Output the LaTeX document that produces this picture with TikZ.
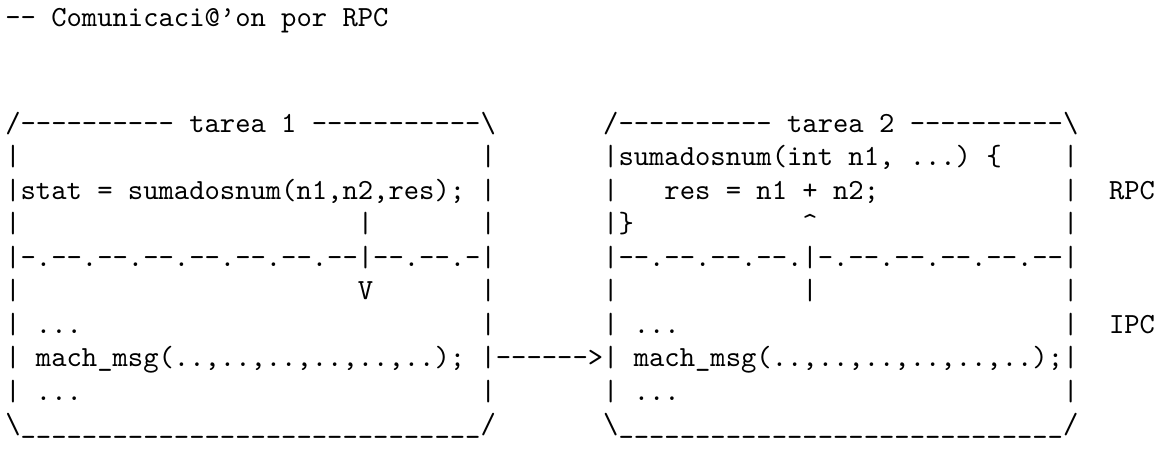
\documentclass[tikz,border=0pt]{standalone}
\usepackage{fontspec}
\setmonofont{lmmono10-regular.otf}
\newcommand\bs{\textbackslash}
\newcommand\gap[1]{\hspace*{#1\fontdimen2\font}}
\newcommand\rep[2]{\foreach\ri in {1,...,#1}{#2}}
\tikzset{
  row/.style={anchor=base west, inner sep=0pt, outer sep=0pt,
    font=\fontsize{14.6pt}{16pt}\selectfont\ttfamily\frenchspacing}
}
\begin{document}
\begin{tikzpicture}[x=0.5pt,y=-0.5pt]
\useasboundingbox (0,0) rectangle (1159,452);
\def\lx{5.3}
\node[row] (r0) at (\lx,26) {--~Comunicaci@’on~por~RPC};
\node[row] (r1) at (\lx,132) {/----------~tarea~1~-----------\bs\gap{7}/----------~tarea~2~----------\bs};
\node[row] (r2) at (\lx,165.5) {|\gap{30}|\gap{7}|sumadosnum(int~n1,~...)~\{\gap{4}|};
\node[row] (r3) at (\lx,199) {|stat~=~sumadosnum(n1,n2,res);~|\gap{7}|\gap{3}res~=~n1~+~n2;\gap{12}|\gap{2}RPC};
\node[row] (r4) at (\lx,232.5) {|\gap{22}|\gap{7}|\gap{7}|\}\gap{11}\textasciicircum\gap{16}|};
\node[row] (r5) at (\lx,266) {|-.--.--.--.--.--.--.--|--.--.-|\gap{7}|--.--.--.--.|-.--.--.--.--.--|};
\node[row] (r6) at (\lx,299.5) {|\gap{22}V\gap{7}|\gap{7}|\gap{12}|\gap{16}|};
\node[row] (r7) at (\lx,333) {|~...\gap{26}|\gap{7}|~...\gap{25}|\gap{2}IPC};
\node[row] (r8) at (\lx,366.5) {|~mach\_msg(..,..,..,..,..,..);~|------>|~mach\_msg(..,..,..,..,..,..);|};
\node[row] (r9) at (\lx,400) {|~...\gap{26}|\gap{7}|~...\gap{25}|};
\node[row] (r10) at (\lx,433.5) {\bs\rep{30}{\_}/\gap{7}\bs\rep{29}{\_}/};
\end{tikzpicture}
\end{document}
